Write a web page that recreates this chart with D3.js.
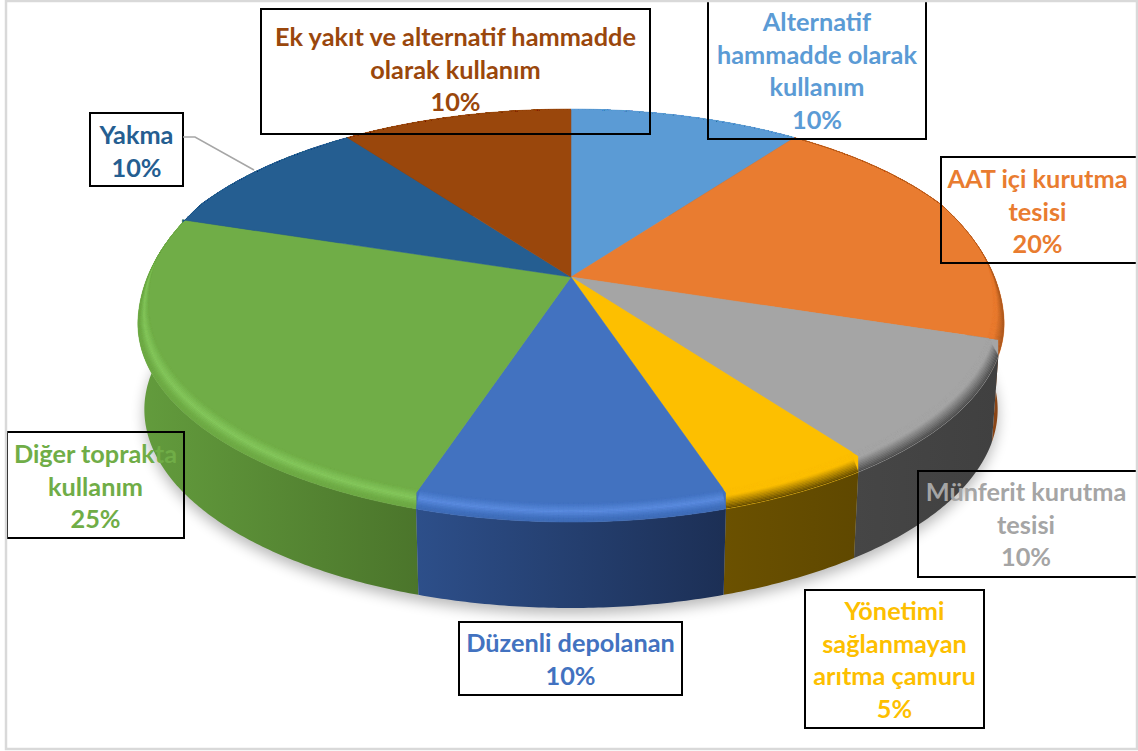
<!DOCTYPE html>
<html>
<head>
<meta charset="utf-8">
<script src="https://cdn.jsdelivr.net/npm/d3@7"></script>
<style>
  html, body { margin: 0; padding: 0; background: #fff; }
  svg { display: block; }
  text { font-family: Lato, "Open Sans", sans-serif; font-weight: 700; font-size: 25.3px; text-anchor: middle; }
</style>
</head>
<body>
<svg id="chart" width="1138" height="751"></svg>
<script>
// data, clockwise from 12 o'clock
var categories = ["Alternatif hammadde olarak kullanım", "AAT içi kurutma tesisi", "Münferit kurutma tesisi",
  "Yönetimi sağlanmayan arıtma çamuru", "Düzenli depolanan", "Diğer toprakta kullanım", "Yakma",
  "Ek yakıt ve alternatif hammadde olarak kullanım"];
var percents = [10, 20, 10, 5, 10, 25, 10, 10];

// how the names wrap inside their boxes
var labelLines = [
  ["Alternatif", "hammadde olarak", "kullanım"],
  ["AAT içi kurutma", "tesisi"],
  ["Münferit kurutma", "tesisi"],
  ["Yönetimi", "sağlanmayan", "arıtma çamuru"],
  ["Düzenli depolanan"],
  ["Diğer toprakta", "kullanım"],
  ["Yakma"],
  ["Ek yakıt ve alternatif hammadde", "olarak kullanım"]
];

var faceColors = ["#5b9bd5", "#e97c30", "#a5a5a5", "#fdbf00", "#4272c0", "#70ad47", "#255e91", "#9a470c"];
var rimColors  = ["#5b9bd5", "#a5561f", "#4a4a4a", "#5f4800", "#5c8de0", "#86c95e", "#255e91", "#9a470c"];
var rimGlows   = [false, false, false, false, true, true, false, false];
var sideLeft   = ["#3a6a96", "#7a3f14", "#464646", "#6b5100", "#2d4f8a", "#639c3d", "#1a4265", "#6b3009"];
var sideRight  = ["#3a6a96", "#8a4516", "#404040", "#5f4800", "#1c2f55", "#4b752b", "#1a4265", "#6b3009"];

// label boxes: [x0, y0, x1, y1, first baseline]
var boxes = [
  [708, -4, 926, 139, 31],
  [941, 157, 1150, 263, 188],
  [918, 471, 1150, 577, 501],
  [805, 590, 984, 728, 620],
  [459, 622, 682, 695, 652],
  [7, 432, 184, 538, 463],
  [90, 113, 183, 186, 144],
  [261, 9, 650, 134, 46]
];
var lineHeight = 32.5;

var svg = d3.select("#chart");
var defs = svg.append("defs");

defs.append("filter").attr("id", "soft")
  .attr("x", "-10%").attr("y", "-10%").attr("width", "120%").attr("height", "120%")
  .append("feGaussianBlur").attr("stdDeviation", 7);
defs.append("clipPath").attr("id", "frameClip")
  .append("rect").attr("x", 7).attr("y", 2).attr("width", 1129).attr("height", 746);

// perspective view of the pie disc
var cx = 571, cy = 277, dropBottom = 102, dropRim = 16;
var a = 193.8, b = 428, k = 0.1537;

function project(theta) {
  var u = Math.sin(theta), v = Math.cos(theta), w = 1 + k * v;
  return [cx + b * u / w, cy - a * v / w];
}
// 0 at the back of the disc, 1 along the front where the bevel shows
function bevelWeight(theta) {
  return Math.max(0, Math.min(1, (0.4 - Math.cos(theta)) / 0.5));
}
function projectBottom(theta) {
  var p = project(theta);
  return [cx + 0.985 * (p[0] - cx), p[1] + dropBottom];
}
function projectOuter(theta) {
  var p = project(theta);
  return [p[0], p[1] + dropRim * bevelWeight(theta)];
}
function projectInner(theta) {
  var p = project(theta), w = bevelWeight(theta);
  return [cx + (1 - 0.025 * w) * (p[0] - cx), p[1] - 3 * w];
}
function sweep(d) {
  var n = Math.ceil((d.endAngle - d.startAngle) / 0.01);
  return d3.range(n + 1).map(function(i) { return d.startAngle + (d.endAngle - d.startAngle) * i / n; });
}
// outline of a slice: spokes run to the flat edge, then drop down to the bevel
function wedge(d) {
  return [[cx, cy], project(d.startAngle)]
    .concat(sweep(d).map(projectOuter))
    .concat([project(d.endAngle)]);
}

var line = d3.line();
var pie = d3.pie().sort(null).value(function(d) { return d; });
var slices = pie(percents);

// drop shadow
var whole = d3.range(0, 2 * Math.PI, 0.02);
svg.append("path")
  .attr("d", line(whole.map(function(t) { var p = projectBottom(t); return [p[0], p[1] + 6]; })) + "Z")
  .attr("fill", "#000").attr("opacity", 0.28)
  .attr("filter", "url(#soft)");

// sides, back ones first
var order = d3.range(slices.length).sort(function(i, j) {
  var mid = function(d) { return Math.abs((d.startAngle + d.endAngle) / 2 - Math.PI); };
  return mid(slices[j]) - mid(slices[i]);
});

order.forEach(function(i) {
  var d = slices[i], ts = sweep(d);
  var grad = defs.append("linearGradient").attr("id", "side" + i);
  grad.append("stop").attr("offset", "0%").attr("stop-color", sideLeft[i]);
  grad.append("stop").attr("offset", "100%").attr("stop-color", sideRight[i]);
  var pts = ts.map(projectOuter).concat(ts.slice().reverse().map(projectBottom));
  svg.append("path").attr("class", "side")
    .attr("d", line(pts) + "Z")
    .attr("fill", "url(#side" + i + ")");
});

// top faces
slices.forEach(function(d, i) {
  svg.append("path").attr("class", "face")
    .attr("d", line(wedge(d)) + "Z")
    .attr("fill", faceColors[i])
    .attr("stroke", faceColors[i]).attr("stroke-width", 0.5);
});

// rim shading: lit slices get a thin highlight, the right hand ones fade to dark
function rimColour(i, f) {
  var mix = d3.interpolateRgb(faceColors[i], rimColors[i]);
  if (rimGlows[i]) {
    if (f < 0.45) return mix(f / 0.45);
    if (f < 0.8) return mix(1 - (f - 0.45) / 0.35);
    return d3.interpolateRgb(faceColors[i], sideLeft[i])((f - 0.8) / 0.2 * 0.2);
  }
  return mix(Math.max(0, (f - 0.35) / 0.65));
}

var strips = 14;
slices.forEach(function(d, i) {
  var ts = sweep(d);
  // keep each slice's rim inside its own wedge
  defs.append("clipPath").attr("id", "wedge" + i)
    .append("path")
    .attr("d", line(wedge(d)) + "Z");
  var rim = svg.append("g").attr("clip-path", "url(#wedge" + i + ")");
  d3.range(strips).forEach(function(s) {
    var t0 = s / strips, t1 = (s + 1) / strips;
    var ring = function(f) {
      return function(t) {
        var p = projectOuter(t), q = projectInner(t);
        return [q[0] + (p[0] - q[0]) * f, q[1] + (p[1] - q[1]) * f];
      };
    };
    var pts = ts.map(ring(t0)).concat(ts.slice().reverse().map(ring(t1)));
    var c = rimColour(i, (t0 + t1) / 2);
    rim.append("path").attr("class", "rim")
      .attr("d", line(pts) + "Z")
      .attr("fill", c)
      .attr("stroke", c).attr("stroke-width", 0.3);
  });
});

// labels and frame
var overlay = svg.append("g").attr("clip-path", "url(#frameClip)");

svg.append("path")
  .attr("d", line([[183, 137], [195, 137], [254, 170]]))
  .attr("fill", "none").attr("stroke", "#a6a6a6").attr("stroke-width", 1.5);

categories.forEach(function(name, i) {
  var box = boxes[i], mid = (box[0] + box[2]) / 2;
  if (box[2] > 1138) mid = (box[0] + 1134) / 2;
  overlay.append("rect")
    .attr("x", box[0]).attr("y", box[1])
    .attr("width", box[2] - box[0]).attr("height", box[3] - box[1])
    .attr("fill", "none").attr("stroke", "#000").attr("stroke-width", 2);
  var label = overlay.append("text").attr("fill", faceColors[i]);
  labelLines[i].concat([percents[i] + "%"]).forEach(function(txt, j) {
    label.append("tspan").attr("x", mid).attr("y", box[4] + j * lineHeight).text(txt);
  });
});

svg.append("rect")
  .attr("x", 6).attr("y", 1).attr("width", 1131).attr("height", 748)
  .attr("fill", "none").attr("stroke", "#d9d9d9").attr("stroke-width", 2.5);
</script>
</body>
</html>
